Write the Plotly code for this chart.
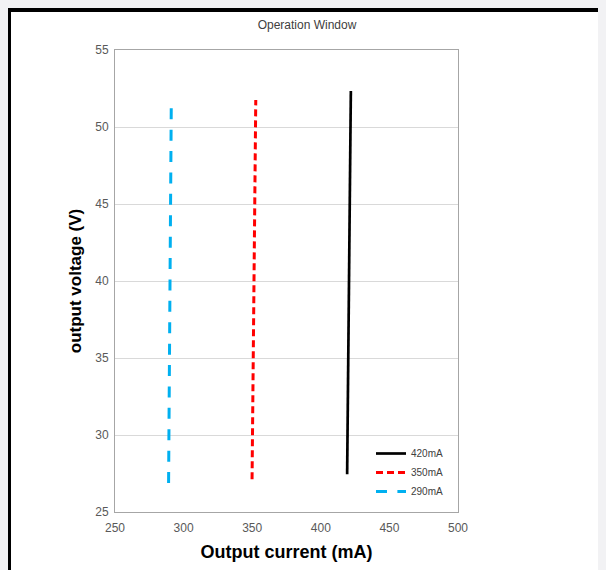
import plotly.graph_objects as go

# Data
series_names = ["420mA", "350mA", "290mA"]
current_420 = [419.2, 421.9]
voltage_420 = [27.45, 52.34]
current_350 = [349.9, 352.6]
voltage_350 = [27.12, 51.75]
current_290 = [289.05, 291.0]
voltage_290 = [26.88, 51.28]
x_ticks = [250, 300, 350, 400, 450, 500]
y_ticks = [25, 30, 35, 40, 45, 50, 55]

# page has an 8px body margin: figure occupies 8..606 x 8..570
W, H = 598, 562
L, R, T, B = 107, 450, 42, 504

fig = go.Figure()
fig.add_trace(go.Scatter(x=current_420, y=voltage_420, mode="lines", name=series_names[0],
                         line=dict(color="#000000", width=2.7)))
fig.add_trace(go.Scatter(x=current_350, y=voltage_350, mode="lines", name=series_names[1],
                         line=dict(color="#ff0000", width=3, dash="7px,4px")))
fig.add_trace(go.Scatter(x=current_290, y=voltage_290, mode="lines", name=series_names[2],
                         line=dict(color="#00b0f0", width=3, dash="11px,10.4px")))

def px(xp):
    return (xp - L) / (R - L)

def py(yp):
    return (B - yp) / (B - T)

shapes = [
    dict(type="rect", xref="paper", yref="paper", x0=px(0), x1=px(W), y0=py(4), y1=py(0),
         fillcolor="#000000", line=dict(width=0), layer="below"),
    dict(type="rect", xref="paper", yref="paper", x0=px(0), x1=px(3), y0=py(H), y1=py(0),
         fillcolor="#000000", line=dict(width=0), layer="below"),
]

fig.update_layout(
    width=W, height=H,
    margin=dict(l=L, r=W - R, t=T, b=H - B),
    paper_bgcolor="white", plot_bgcolor="white",
    font=dict(family="Liberation Sans, Arial, sans-serif", color="#595959", size=12),
    title=dict(text="Operation Window", x=0.5, xref="container", xanchor="center",
               y=1 - 17 / H, yref="container", yanchor="middle",
               font=dict(size=12, color="#404040")),
    shapes=shapes,
    showlegend=True,
    legend=dict(x=px(363), y=py(431), xanchor="left", yanchor="top",
                bgcolor="rgba(0,0,0,0)", font=dict(size=10, color="#404040"),
                itemwidth=30),
)
fig.update_xaxes(range=[250, 500], tickvals=x_ticks, showgrid=False, zeroline=False,
                 showline=True, linecolor="#a6a6a6", linewidth=1, mirror=True,
                 ticks="", ticklabelstandoff=5, tickfont=dict(size=12, color="#595959"),
                 title=dict(text="<b>Output current (mA)</b>", font=dict(size=18, color="#000000"),
                            standoff=10))
fig.update_yaxes(range=[25, 55], tickvals=y_ticks, showgrid=True, gridcolor="#d9d9d9",
                 zeroline=False, showline=True, linecolor="#a6a6a6", linewidth=1, mirror=True,
                 ticks="", ticklabelstandoff=3, tickfont=dict(size=12, color="#595959"),
                 title=dict(text="<b>output voltage (V)</b>", font=dict(size=17, color="#000000"),
                            standoff=9))

fig.write_html("out.html", post_script="document.body.style.background='#f2f2f4';")
